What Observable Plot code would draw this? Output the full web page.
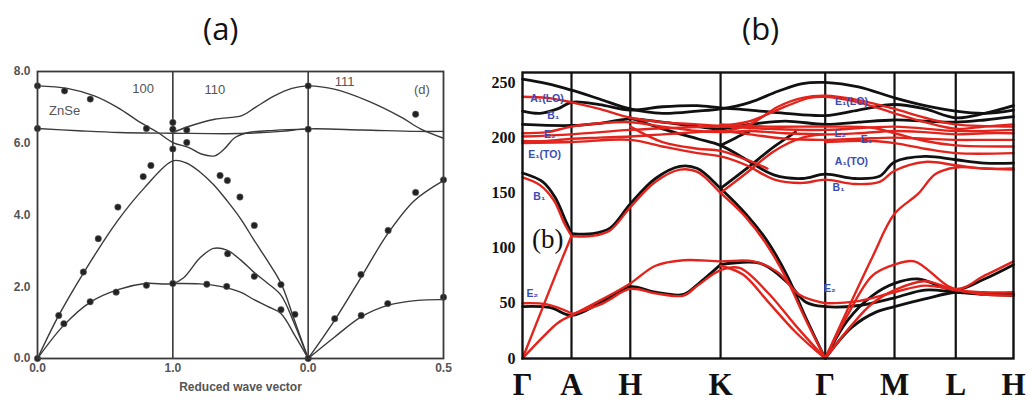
<!DOCTYPE html>
<html>
<head>
<meta charset="utf-8">
<script src="https://cdn.jsdelivr.net/npm/d3@7"></script>
<script src="https://cdn.jsdelivr.net/npm/@observablehq/plot@0.6"></script>
<style>
  html, body { margin: 0; padding: 0; background: #fff; }
  #wrap { position: relative; width: 1030px; height: 403px; overflow: hidden; }
  .title { position: absolute; font-family: "Open Sans", sans-serif; font-size: 31px; color: #111; top: 8px; line-height: 40px; }
  #pa { position: absolute; left: 0; top: 50px; }
  #pb { position: absolute; left: 480px; top: 50px; }
</style>
</head>
<body>
<div id="wrap">
  <div class="title" style="left:203px">(a)</div>
  <div class="title" style="left:742px">(b)</div>
  <div id="pa"></div>
  <div id="pb"></div>
</div>
<script>
// ---------------- Panel (a): ZnSe phonon dispersion ----------------
const aTickPos = [0, 1, 2, 3];
const aTickLabels = ["0.0", "1.0", "0.0", "0.5"];
const aYTicks = [0, 2, 4, 6, 8];
// curves: [path coordinate, frequency]
const aOptic1 = [[0,7.6],[0.22,7.53],[0.42,7.32],[0.59,7.0],[0.76,6.58],[0.89,6.3],[1.0,6.02],[1.12,5.88],[1.21,5.7],[1.31,5.65],[1.38,5.84],[1.46,6.16],[1.56,6.3],[1.75,6.36],[2.0,6.4]];
const aOptic2 = [[0,6.41],[0.3,6.35],[0.6,6.3],[1.0,6.28],[1.5,6.27],[1.8,6.33],[2.0,6.4],[2.4,6.37],[2.8,6.33],[3.0,6.33]];
const aOptic3 = [[1.0,6.3],[1.11,6.46],[1.31,6.67],[1.51,6.77],[1.61,7.0],[1.75,7.32],[1.88,7.53],[2.0,7.6],[2.2,7.5],[2.44,7.18],[2.69,6.72],[2.83,6.4],[3.0,6.14]];
const aLA = [[0,0],[0.157,1.2],[0.344,2.41],[0.594,3.85],[0.793,4.77],[1.0,5.51],[1.1,5.45],[1.2,5.2],[1.3,4.85],[1.4,4.4],[1.5,3.9],[1.6,3.3],[1.7,2.72],[1.8,2.09],[1.9,1.05],[2.0,0]];
const aTA1 = [[0,0],[0.195,0.93],[0.394,1.58],[0.594,1.92],[0.793,2.09],[1.0,2.09],[1.08,2.25],[1.2,2.8],[1.3,3.07],[1.4,3.02],[1.5,2.75],[1.6,2.4],[1.7,2.1],[1.8,1.76],[1.9,0.95],[2.0,0]];
const aTA2 = [[1.0,2.09],[1.2,2.08],[1.35,2.01],[1.5,1.85],[1.6,1.64],[1.7,1.45],[1.8,1.25],[1.9,0.65],[2.0,0]];
const aLA111 = [[2,0],[2.196,1.07],[2.392,2.27],[2.588,3.48],[2.784,4.4],[3.0,4.96]];
const aTA111 = [[2,0],[2.196,0.6],[2.392,1.16],[2.588,1.48],[2.81,1.62],[3.0,1.64]];
const aDots = [[0,7.6],[0,6.41],[0.2,7.46],[0.39,7.23],[0.805,6.41],[0.157,1.2],[0.195,0.97],[0.339,2.41],[0.389,1.58],[0.449,3.34],[0.581,1.85],[0.594,4.22],[0.781,5.07],[0.838,5.38],[0.805,2.04],[1.0,6.58],[1.0,6.39],[1.0,5.84],[1.0,2.09],[1.103,6.37],[1.103,6.02],[1.349,5.1],[1.403,4.96],[1.496,4.5],[1.602,3.71],[1.251,2.07],[1.398,2.01],[1.405,2.92],[1.602,2.29],[1.799,2.06],[1.799,1.36],[1.902,1.23],[2.0,7.6],[2.0,6.39],[2.0,0],[2.794,6.81],[3.0,4.98],[2.794,4.63],[2.591,3.57],[2.39,2.34],[2.196,1.11],[2.392,1.2],[2.588,1.53],[3.0,1.71],[0,0]];
const aNotes = [
  {x: 0.2, y: 6.9, t: "ZnSe"},
  {x: 0.78, y: 7.53, t: "100"},
  {x: 1.31, y: 7.5, t: "110"},
  {x: 2.27, y: 7.7, t: "111"},
  {x: 2.84, y: 7.5, t: "(d)"}
];
const aCurves = [aOptic1, aOptic2, aOptic3, aLA, aTA1, aTA2, aLA111, aTA111];
const aRows = aCurves.flatMap((c, i) => c.map(([x, y]) => ({x, y, id: i})));

const gray = "#3a3a3a";
const plotA = Plot.plot({
  width: 480, height: 353,
  marginLeft: 37, marginRight: 37, marginTop: 21, marginBottom: 45,
  style: {fontFamily: "Liberation Sans, Arial, sans-serif", fontSize: "12px", color: "#555", background: "transparent"},
  x: {domain: [0, 3]},
  y: {domain: [0, 8]},
  marks: [
    Plot.ruleX([1, 2], {stroke: gray, strokeWidth: 1.6}),
    Plot.line(aRows, {x: "x", y: "y", z: "id", stroke: gray, strokeWidth: 1.4, curve: "catmull-rom"}),
    Plot.dot(aDots, {x: d => d[0], y: d => d[1], r: 3.2, fill: "#222", stroke: "#666", strokeWidth: 0.6}),
    Plot.text(aNotes, {x: "x", y: "y", text: "t", fill: "#555", fontSize: 13}),
    Plot.frame({stroke: gray, strokeWidth: 1.8}),
    Plot.axisY({ticks: aYTicks, tickFormat: d => d.toFixed(1), tickSize: 0, tickPadding: 7, label: null, fontWeight: "bold"}),
    Plot.axisX({ticks: aTickPos, tickFormat: d => aTickLabels[aTickPos.indexOf(d)], tickSize: 0, tickPadding: 5,
      label: "Reduced wave vector", labelAnchor: "center", labelArrow: "none", labelOffset: 32, fontWeight: "bold"})
  ]
});
document.getElementById("pa").appendChild(plotA);

// ---------------- Panel (b): wurtzite dispersion (black vs red) ----------------
const bTickPos = [0, 1.40, 3.08, 5.66, 8.65, 10.63, 12.38, 14.03];
const bTickLabels = ["Γ", "A", "H", "K", "Γ", "M", "L", "H"];
const bYTicks = [0, 50, 100, 150, 200, 250];

const black1 = [[0,253],[0.7,249],[1.4,243],[2.2,235],[3.08,226],[4.0,222],[5.0,224],[5.66,226],[6.5,232],[7.3,242],[8.0,249],[8.65,250],[9.6,246],[10.63,236],[11.5,229],[12.38,224],[13.2,222],[14.03,225]];
const black2 = [[0,224],[0.5,222],[1.0,226],[1.4,232],[2.2,230],[3.08,225],[4.0,228],[5.0,229],[5.66,227],[6.5,225],[7.5,222],[8.65,220],[9.6,225],[10.63,230],[11.5,226],[12.38,218],[13.2,222],[14.03,229]];
const black3 = [[0,212],[1.4,211],[2.2,213],[3.08,217],[4.0,214],[5.0,210],[5.66,208],[6.5,212],[7.5,215],[8.65,212],[9.6,214],[10.63,216],[11.5,215],[12.38,214],[13.2,216],[14.03,219]];
const black4 = [[3.08,218],[4.0,208],[5.0,199],[5.66,193],[6.4,180],[7.2,166],[8.0,163],[8.65,167],[9.5,163],[10.2,165],[10.63,178],[11.5,183],[12.38,180],[13.2,177],[14.03,177]];
const black5 = [[1.4,113],[2.0,113],[2.5,118],[3.08,140],[3.8,163],[4.5,174],[5.0,172],[5.66,154],[6.38,131],[6.98,107],[7.58,74],[8.08,38],[8.65,0]];
const black6 = [[0,168],[0.58,160],[0.93,146],[1.23,125],[1.4,113]];
const black7 = [[0,47],[0.8,46],[1.4,39],[2.3,52],[3.08,65],[3.8,60],[4.6,58],[5.0,67],[5.66,85]];
const black8 = [[5.66,85],[6.8,86],[7.6,68],[8.1,51],[8.65,47],[9.6,48],[10.63,55],[11.5,62],[12.38,60],[13.2,58],[14.03,57]];
const black9 = [[8.65,0],[9.3,35],[10.0,57],[10.63,68],[11.3,72],[12.38,62],[13.2,72],[14.03,85]];
const black10 = [[8.65,0],[9.4,28],[10.1,42],[10.63,47],[11.5,54],[12.38,60],[13.2,59],[14.03,58]];
const black11 = [[5.66,154],[6.4,172],[7.2,192],[7.8,205]];
const black12 = [[5.66,193],[6.1,200],[6.5,206]];

const red1 = [[0,237],[0.7,236],[1.4,232],[2.2,226],[3.08,218],[4.0,214],[5.0,212],[5.66,211],[6.5,215],[7.5,228],[8.2,236],[8.65,237],[9.6,232],[10.63,222],[11.5,214],[12.38,208],[13.2,210],[14.03,212]];
const red2 = [[0,204],[0.7,205],[1.4,210],[2.2,213],[3.08,214],[4.0,210],[5.0,206],[5.66,205],[6.5,206],[7.5,204],[8.65,203],[9.6,204],[10.63,206],[11.5,205],[12.38,203],[13.2,204],[14.03,204]];
const red3 = [[0,197],[0.7,197],[1.4,199],[2.2,200],[3.08,201],[4.0,203],[5.0,205],[5.66,206],[6.5,203],[7.5,199],[8.65,198],[9.6,199],[10.63,200],[11.5,199],[12.38,198],[13.2,198],[14.03,198]];
const red4 = [[0,195],[1.4,196],[3.08,198],[4.0,192],[5.0,186],[5.66,183],[6.4,175],[7.2,162],[8.0,159],[8.65,162],[9.5,158],[10.2,160],[10.63,170],[11.5,178],[12.38,175],[13.2,172],[14.03,172]];
const red5 = [[0,164],[0.5,157],[0.9,143],[1.2,122],[1.4,111]];
const red6 = [[1.4,111],[2.0,111],[2.5,116],[3.08,137],[3.8,160],[4.5,171],[5.0,169],[5.66,150],[6.38,128],[6.98,103],[7.58,70],[8.08,36],[8.65,0]];
const red7 = [[0,0],[0.5,40],[1.0,80],[1.4,111]];
const red8 = [[0,0],[0.6,20],[1.0,32],[1.4,39]];
const red9 = [[0,50],[0.7,49],[1.4,41]];
const red10 = [[1.4,39],[2.3,54],[3.08,68],[3.8,84],[4.6,89],[5.66,88],[6.6,88],[7.3,78],[7.9,58],[8.65,50]];
const red11 = [[1.4,40],[2.3,50],[3.08,63],[3.8,59],[4.6,57],[5.0,66],[5.66,80],[6.2,82],[7.0,60],[7.8,30],[8.65,0]];
const red12 = [[5.66,84],[6.3,76],[7.0,52],[7.8,24],[8.65,0]];
const red13 = [[8.65,0],[9.3,45],[10.0,92],[10.63,131],[11.3,149],[11.8,167],[12.38,173],[13.2,172],[14.03,171]];
const red14 = [[8.65,0],[9.3,40],[10.0,75],[10.63,85],[11.2,88],[12.38,63],[13.2,75],[14.03,88]];
const red15 = [[8.65,0],[9.4,30],[10.0,50],[10.63,62],[11.5,70],[12.38,62],[13.2,60],[14.03,60]];
const red16 = [[8.65,50],[9.6,52],[10.63,60],[11.5,66],[12.38,62],[13.2,58],[14.03,57]];
const red17 = [[5.66,205],[6.5,212],[7.3,228],[8.0,236],[8.65,238],[9.6,234],[10.63,226],[11.5,218],[12.38,212],[14.03,210]];
const red18 = [[5.66,150],[6.4,168],[7.2,188],[8.0,200],[8.65,203]];
const red19 = [[3.08,210],[4.0,196],[5.0,190],[5.66,188],[6.4,180],[7.0,172]];
const red20 = [[0,201],[1.4,203],[3.08,207],[4.5,209],[5.66,210],[7.0,208],[8.65,207],[10.63,210],[12.38,206],[14.03,207]];
const red21 = [[5.66,212],[7.0,210],[8.65,210],[10.0,209],[10.63,204],[11.5,197],[12.38,193],[14.03,192]];
const red22 = [[8.65,196],[10.0,197],[10.63,195],[11.5,190],[12.38,186],[14.03,186]];

const blackCurves = [black1, black2, black3, black4, black5, black6, black7, black8, black9, black10, black11, black12];
const redCurves = [red1, red2, red3, red4, red5, red6, red7, red8, red9, red10, red11, red12, red13, red14, red15, red16, red17, red18, red19, red20, red21, red22];

const modeLabels = [
  {x: 0.7, y: 235, t: "A₁(LO)"}, {x: 0.88, y: 220, t: "B₁"}, {x: 0.78, y: 203, t: "E₂"},
  {x: 0.63, y: 185, t: "E₁(TO)"}, {x: 0.48, y: 147, t: "B₁"}, {x: 0.28, y: 59, t: "E₂"},
  {x: 9.4, y: 233, t: "E₁(LO)"}, {x: 9.08, y: 204, t: "E₂"}, {x: 9.83, y: 198, t: "E₁"},
  {x: 9.4, y: 178, t: "A₁(TO)"}, {x: 9.03, y: 155, t: "B₁"}, {x: 8.78, y: 63, t: "E₂"}
];

const blackRows = blackCurves.flatMap((c, i) => c.map(([x, y]) => ({x, y, id: i})));
const redRows = redCurves.flatMap((c, i) => c.map(([x, y]) => ({x, y, id: i})));

const plotB = Plot.plot({
  width: 550, height: 353,
  marginLeft: 42, marginRight: 17, marginTop: 22, marginBottom: 45,
  style: {fontFamily: "Liberation Serif, Times New Roman, serif", color: "#111", background: "transparent"},
  x: {domain: [0, 14.03]},
  y: {domain: [0, 259]},
  marks: [
    Plot.ruleX(bTickPos.slice(1, -1), {stroke: "#111", strokeWidth: 2.2}),
    Plot.line(blackRows, {x: "x", y: "y", z: "id", stroke: "#111", strokeWidth: 2.8, curve: "catmull-rom"}),
    Plot.line(redRows, {x: "x", y: "y", z: "id", stroke: "#e3241d", strokeWidth: 2.4, curve: "catmull-rom"}),
    Plot.text(modeLabels, {x: "x", y: "y", text: "t", fill: "#3a4db5", fontSize: 10.5, fontWeight: "bold", fontFamily: "Liberation Sans, Arial, sans-serif"}),
    Plot.text(["(b)"], {x: 0.72, y: 108, text: d => d, fontSize: 27, fill: "#111"}),
    Plot.frame({stroke: "#111", strokeWidth: 2.4}),
    Plot.axisY({ticks: bYTicks, tickSize: 0, tickPadding: 7, label: null, fontSize: 16, fontWeight: "bold"}),
    Plot.axisX({ticks: bTickPos, tickFormat: d => bTickLabels[bTickPos.indexOf(d)], tickSize: 0, tickPadding: 14, label: null, fontSize: 31, fontWeight: "bold"})
  ]
});
document.getElementById("pb").appendChild(plotB);
</script>
</body>
</html>
